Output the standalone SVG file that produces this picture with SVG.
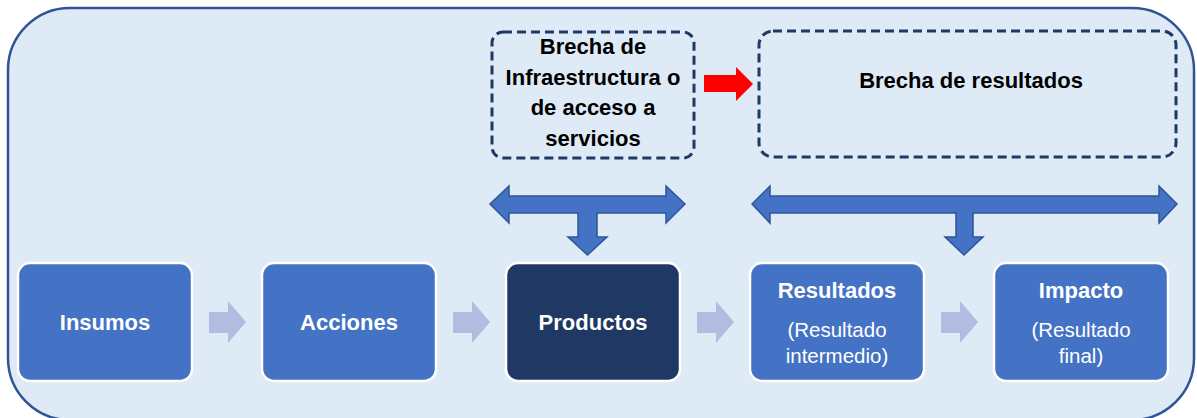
<svg xmlns="http://www.w3.org/2000/svg" width="1197" height="418" viewBox="0 0 1197 418">
<style>
.box{fill:#4472C4;stroke:#FFFFFF;stroke-width:2.5}
.dark{fill:#203864}
.gap{fill:none;stroke:#1F3864;stroke-width:3;stroke-dasharray:9 5}
.t{font-family:"Liberation Sans",Arial,sans-serif;text-anchor:middle}
.wb{fill:#FFFFFF;font-weight:bold;font-size:22px}
.wr{fill:#FFFFFF;font-size:20.5px}
.kb{fill:#000000;font-weight:bold;font-size:22px}
.step{fill:#B0BDE0}
.tarrow{fill:#4472C4;stroke:#2F5597;stroke-width:1.5;stroke-linejoin:miter}
</style>
<rect width="1197" height="418" fill="#FFFFFF"/>
<rect id="frame" x="8" y="8" width="1186" height="412" rx="62" ry="62" fill="#DEEAF6" stroke="#2F5597" stroke-width="2.5"/>
<g id="gap-infra">
<rect class="gap" x="492" y="32" width="202" height="126" rx="11"/>
<text class="t kb" x="593" y="54">Brecha de</text>
<text class="t kb" x="593" y="85">Infraestructura o</text>
<text class="t kb" x="593" y="115">de acceso a</text>
<text class="t kb" x="593" y="146">servicios</text>
</g>
<g id="gap-results">
<rect class="gap" x="759" y="31" width="417" height="126" rx="14"/>
<text class="t kb" x="971" y="88">Brecha de resultados</text>
</g>
<g id="insumos"><rect class="box" x="18" y="263" width="174" height="118" rx="12"/><text class="t wb" x="105" y="330">Insumos</text></g>
<g id="acciones"><rect class="box" x="262" y="263" width="174" height="118" rx="12"/><text class="t wb" x="349" y="330">Acciones</text></g>
<g id="productos"><rect class="box dark" x="506" y="263" width="174" height="118" rx="12"/><text class="t wb" x="593" y="330">Productos</text></g>
<g id="resultados"><rect class="box" x="750" y="263" width="174" height="118" rx="12"/><text class="t wb" x="837" y="298">Resultados</text><text class="t wr" x="837" y="337">(Resultado</text><text class="t wr" x="837" y="363">intermedio)</text></g>
<g id="impacto"><rect class="box" x="994" y="263" width="174" height="118" rx="12"/><text class="t wb" x="1081" y="298">Impacto</text><text class="t wr" x="1081" y="337">(Resultado</text><text class="t wr" x="1081" y="363">final)</text></g>
<g id="connectors">
<polygon class="step" points="209,312 228,312 228,301 246,322 228,343 228,333 209,333"/>
<polygon class="step" points="453,312 472,312 472,301 490,322 472,343 472,333 453,333"/>
<polygon class="step" points="697,312 716,312 716,301 734,322 716,343 716,333 697,333"/>
<polygon class="step" points="941,312 960,312 960,301 978,322 960,343 960,333 941,333"/>
<polygon points="704,75 736,75 736,67 753,84 736,101 736,92 704,92" fill="#FF0000"/>
<polygon class="tarrow" points="490,204 509,186 509,196 666,196 666,186 685,204 666,223 666,213 597,213 597,237 607,237 587.5,255 568,237 578,237 578,213 509,213 509,223"/>
<polygon class="tarrow" points="752,204 770,186 770,196 1159,196 1159,186 1177,204 1159,223 1159,213 973,213 973,237 983,237 964,255 945,237 956,237 956,213 770,213 770,223"/>
</g>
</svg>
